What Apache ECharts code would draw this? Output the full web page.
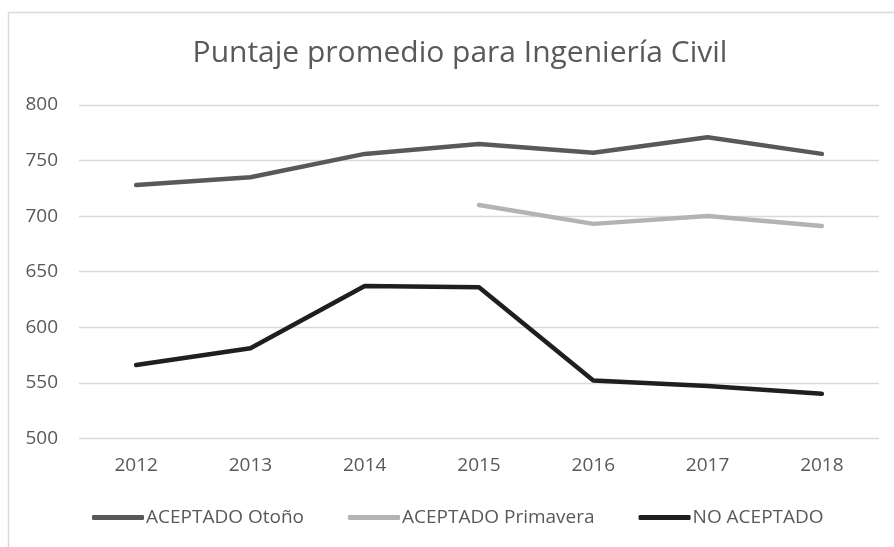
<!DOCTYPE html>
<html>
<head>
<meta charset="utf-8">
<script src="https://cdn.jsdelivr.net/npm/echarts@6/dist/echarts.min.js"></script>
<style>
  html, body { margin: 0; padding: 0; background: #fff; }
  #main { width: 894px; height: 547px; }
</style>
</head>
<body>
<div id="main"></div>
<script>
// categories and values
const years = ['2012', '2013', '2014', '2015', '2016', '2017', '2018'];
const otono = [728, 735, 756, 765, 757, 771, 756];
const primavera = ['-', '-', '-', 710, 693, 700, 691];
const noAceptado = [566, 581, 637, 636, 552, 547, 540];

const FONT = 'Open Sans';
const TEXT = '#595959';

const chart = echarts.init(document.getElementById('main'));

function lineSeries(name, data, color) {
  return {
    name: name,
    type: 'line',
    data: data,
    symbol: 'none',
    lineStyle: { color: color, width: 4.5, cap: 'round', join: 'round' },
    itemStyle: { color: color }
  };
}

chart.setOption({
  animation: false,
  backgroundColor: '#fff',
  // light frame round the chart area
  graphic: [{
    type: 'rect',
    shape: { x: 8.5, y: 12.5, width: 900, height: 600 },
    style: { fill: 'none', stroke: '#d9d9d9', lineWidth: 1.5 },
    silent: true
  }],
  title: {
    text: 'Puntaje promedio para Ingeniería Civil',
    left: 455,
    top: 33,
    textAlign: 'center',
    textStyle: { fontFamily: FONT, fontSize: 30, fontWeight: 'normal', color: TEXT }
  },
  legend: {
    left: 92,
    top: 508,
    padding: 0,
    icon: 'roundRect',
    itemWidth: 52,
    itemHeight: 5,
    itemGap: 44,
    textStyle: { fontFamily: FONT, fontSize: 19, color: TEXT, padding: [0, 0, 0, -3] },
    data: ['ACEPTADO Otoño', 'ACEPTADO Primavera', 'NO ACEPTADO']
  },
  grid: { left: 79, right: 15, top: 105, bottom: 108.7 },
  xAxis: {
    type: 'category',
    data: years,
    boundaryGap: true,
    axisLine: { show: false },
    axisTick: { show: false },
    axisLabel: { fontFamily: FONT, fontSize: 19, color: TEXT, margin: 18 }
  },
  yAxis: {
    type: 'value',
    min: 500,
    max: 800,
    interval: 50,
    axisLine: { show: false },
    axisTick: { show: false },
    axisLabel: { fontFamily: FONT, fontSize: 19, color: TEXT, margin: 21 },
    splitLine: { lineStyle: { color: '#d9d9d9', width: 1.3 } }
  },
  series: [
    lineSeries('ACEPTADO Otoño', otono, '#595959'),
    lineSeries('ACEPTADO Primavera', primavera, '#b3b3b3'),
    lineSeries('NO ACEPTADO', noAceptado, '#1f1f1f')
  ]
});
</script>
</body>
</html>
